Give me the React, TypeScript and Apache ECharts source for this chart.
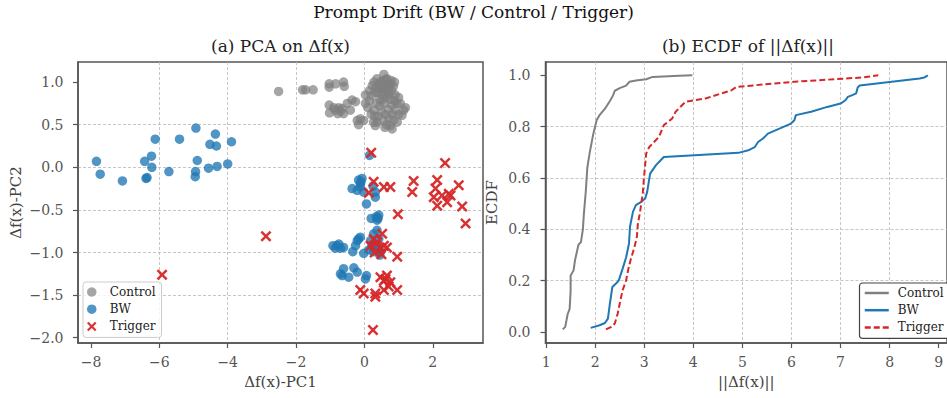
import React, { useEffect, useRef } from 'react';
import * as echarts from 'echarts';

// ---------- PCA scatter data (PC1, PC2) ----------
const controlPts: number[][] = [
  [-2.51, 0.89], [-1.81, 0.91], [-1.72, 0.91], [-1.5, 0.91], [-1.03, 0.98], [-1.03, 0.94], [-0.84, 0.98], [-0.61, 1.0], [-0.59, 0.95],
  [-1.03, 0.73], [-1.02, 0.64], [-0.85, 0.67], [-0.75, 0.7], [-0.65, 0.69], [-0.5, 0.75], [-0.36, 0.79], [-0.26, 0.77], [-0.41, 0.67],
  [-0.61, 0.63], [-0.78, 0.63], [-0.9, 0.7], [-0.7, 0.66], [-0.21, 0.55], [-0.17, 0.5], [-0.12, 0.57], [-0.02, 0.55], [0.03, 0.85], [0.03, 0.75],
  [0.15, 0.9], [0.23, 0.96], [0.3, 0.88], [0.37, 1.04], [0.42, 0.97], [0.45, 0.92], [0.5, 0.85], [0.52, 1.01], [0.57, 1.09], [0.58, 0.95],
  [0.6, 0.89], [0.62, 1.03], [0.66, 1.04], [0.68, 0.97], [0.7, 0.92], [0.72, 0.86], [0.76, 0.98], [0.78, 1.02], [0.8, 0.9], [0.85, 0.95],
  [0.88, 1.0], [0.4, 0.88], [0.35, 0.93], [0.48, 1.0], [0.55, 0.93], [0.65, 0.83], [0.75, 0.8], [0.28, 1.0], [0.2, 0.84], [0.9, 0.85], [0.45, 0.8],
  [0.1, 0.7], [0.2, 0.62], [0.27, 0.67], [0.27, 0.53], [0.32, 0.49], [0.37, 0.53], [0.4, 0.6], [0.45, 0.72], [0.5, 0.65], [0.55, 0.55],
  [0.58, 0.75], [0.62, 0.62], [0.65, 0.5], [0.7, 0.68], [0.72, 0.58], [0.76, 0.49], [0.8, 0.73], [0.82, 0.62], [0.85, 0.55], [0.9, 0.67],
  [0.95, 0.75], [0.96, 0.53], [1.0, 0.62], [1.05, 0.75], [1.1, 0.61], [1.15, 0.67], [1.2, 0.7], [0.81, 0.45], [0.6, 0.47], [0.35, 0.75],
  [0.15, 0.78], [0.55, 0.8], [0.88, 0.78], [1.0, 0.82], [0.3, 0.6],
];

const bwPts: number[][] = [
  [-7.84, 0.07], [-7.73, -0.08], [-7.08, -0.16], [-6.43, 0.07], [-6.23, 0.13], [-6.12, 0.33], [-6.22, 0.0], [-6.39, -0.13], [-6.36, -0.12],
  [-5.72, -0.05], [-5.41, 0.33], [-4.93, 0.46], [-4.89, 0.08], [-4.94, -0.05], [-4.95, -0.11], [-4.56, -0.01], [-4.36, 0.39], [-4.52, 0.27],
  [-4.33, 0.25], [-4.31, 0.01], [-4.0, 0.04], [-3.89, 0.3],
  [0.15, 0.14], [-0.36, -0.25], [-0.17, -0.15], [-0.07, -0.13], [-0.12, -0.19], [-0.12, -0.23], [-0.21, -0.27], [-0.02, -0.29], [-0.1, -0.17],
  [0.32, -0.29], [0.32, -0.35], [0.25, -0.22], [0.06, -0.43], [0.2, -0.6], [0.37, -0.62], [0.42, -0.56], [0.35, -0.58], [0.4, -0.6],
  [-0.92, -0.92], [-0.75, -0.9], [-0.7, -0.95], [-0.61, -0.94], [-0.85, -0.95], [-0.8, -0.92], [-0.34, -0.99], [-0.21, -0.86], [-0.17, -0.84],
  [-0.12, -0.82], [-0.26, -0.92], [-0.02, -1.01], [0.13, -0.97], [0.22, -0.92], [0.32, -0.9], [0.47, -0.99], [0.27, -0.99], [0.18, -0.86],
  [0.27, -0.78], [0.37, -0.74], [0.42, -0.84], [0.4, -0.95], [0.45, -1.03],
  [-0.61, -1.19], [-0.65, -1.27], [-0.46, -1.29], [-0.31, -1.18], [-0.21, -1.23], [0.06, -1.27], [0.03, -1.31], [-0.7, -1.25],
];

const triggerPts: number[][] = [
  [0.2, 0.17], [2.36, 0.05], [0.27, -0.17], [0.13, -0.3], [0.57, -0.23], [0.76, -0.23], [1.44, -0.16], [1.4, -0.29], [2.13, -0.15],
  [2.08, -0.25], [2.03, -0.35], [2.13, -0.45], [2.27, -0.33], [2.42, -0.41], [2.47, -0.31], [2.52, -0.33], [2.76, -0.21], [2.86, -0.46],
  [2.96, -0.66], [0.98, -0.55], [-2.88, -0.81], [-5.92, -1.26], [0.25, -1.91],
  [0.18, -0.92], [0.37, -0.88], [0.47, -0.95], [0.57, -0.92], [0.66, -0.94], [0.27, -0.84], [0.52, -0.78], [0.96, -1.05], [0.3, -1.0], [0.5, -1.02],
  [0.47, -1.29], [0.57, -1.33], [0.66, -1.27], [0.62, -1.31], [0.76, -1.35], [-0.12, -1.44], [-0.02, -1.48], [0.32, -1.52], [0.32, -1.48],
  [0.57, -1.44], [0.71, -1.4], [0.96, -1.44],
];

// ---------- ECDF curves (||Δf(x)||, cumulative fraction) ----------
const ecdfControlX = [1.34, 1.39, 1.44, 1.48, 1.5, 1.5, 1.56, 1.59, 1.66, 1.71, 1.75, 1.77, 1.81, 1.84, 1.89, 1.96, 2.03, 2.09, 2.2, 2.3, 2.36, 2.4, 2.5, 2.63, 2.7, 2.83, 3.04, 3.17, 3.71, 3.98];
const ecdfControlY = [0.01, 0.02, 0.07, 0.09, 0.16, 0.22, 0.24, 0.28, 0.34, 0.35, 0.4, 0.46, 0.55, 0.64, 0.7, 0.77, 0.825, 0.845, 0.87, 0.9, 0.92, 0.94, 0.95, 0.96, 0.975, 0.98, 0.985, 0.994, 0.998, 1.0];

const ecdfBwX = [1.91, 2.09, 2.2, 2.26, 2.3, 2.35, 2.43, 2.48, 2.56, 2.63, 2.69, 2.71, 2.77, 2.83, 2.94, 3.02, 3.06, 3.12, 3.24, 3.34, 3.4, 4.92, 5.12, 5.25, 5.32, 5.42, 5.49, 5.52, 5.99, 6.06, 6.09, 6.4, 6.73, 7.0, 7.1, 7.15, 7.24, 7.32, 7.35, 7.39, 8.61, 8.71, 8.78];
const ecdfBwY = [0.016, 0.026, 0.035, 0.052, 0.11, 0.175, 0.19, 0.2, 0.247, 0.29, 0.345, 0.41, 0.468, 0.494, 0.507, 0.52, 0.546, 0.617, 0.65, 0.67, 0.682, 0.698, 0.708, 0.72, 0.74, 0.754, 0.767, 0.773, 0.812, 0.825, 0.845, 0.858, 0.877, 0.89, 0.903, 0.916, 0.923, 0.93, 0.953, 0.96, 0.988, 0.992, 1.0];

const ecdfTriggerX = [2.22, 2.33, 2.4, 2.46, 2.5, 2.56, 2.63, 2.67, 2.73, 2.8, 2.85, 2.87, 2.92, 2.97, 2.99, 3.04, 3.1, 3.3, 3.4, 3.57, 3.64, 3.84, 4.25, 4.78, 4.88, 6.06, 7.47, 7.77];
const ecdfTriggerY = [0.01, 0.02, 0.033, 0.072, 0.11, 0.163, 0.2, 0.24, 0.286, 0.33, 0.37, 0.42, 0.474, 0.54, 0.59, 0.695, 0.72, 0.76, 0.806, 0.832, 0.858, 0.897, 0.91, 0.942, 0.955, 0.975, 0.992, 1.0];

// ---------- tick labels ----------
const pcaXTicks = [-8, -6, -4, -2, 0, 2];
const pcaYTicks = [-2, -1.5, -1, -0.5, 0, 0.5, 1];
const ecdfXTicks = [1, 2, 3, 4, 5, 6, 7, 8, 9];
const ecdfYTicks = [0, 0.2, 0.4, 0.6, 0.8, 1];

const FONT = 'DejaVu Serif';
const SPINE = '#555555';
const TICKTXT = '#555555';
const GRIDLINE = '#b8b8b8';

const minus = (s: string) => s.replace('-', '\u2212');
const fmt0 = (v: number) => minus(String(Math.round(v)));
const fmt1 = (v: number) => minus((Math.abs(v) < 1e-9 ? 0 : v).toFixed(1));

const X_MARK = 'path://M1.6,0L5,3.4L8.4,0L10,1.6L6.6,5L10,8.4L8.4,10L5,6.6L1.6,10L0,8.4L3.4,5L0,1.6Z';

function axisCommon(ticks: number[], fmt: (v: number) => string, margin: number) {
  return {
    type: 'value' as const,
    axisLine: { show: true, onZero: false, lineStyle: { color: SPINE, width: 1.5 } },
    axisTick: { show: true, inside: false, length: 5, customValues: ticks, lineStyle: { color: SPINE, width: 1.2 } },
    axisLabel: { customValues: ticks, formatter: fmt, color: TICKTXT, fontFamily: FONT, fontSize: 14, margin },
    splitLine: { show: true, showMinLine: false, showMaxLine: false, lineStyle: { type: [3, 2], color: GRIDLINE, width: 0.8 } },
    nameLocation: 'middle' as const,
    nameTextStyle: { fontFamily: FONT, fontSize: 15, color: '#444' },
  };
}

const option: any = {
  animation: false,
  backgroundColor: '#ffffff',
  grid: [
    { left: 78, top: 62, width: 405, height: 281, show: true, borderColor: SPINE, borderWidth: 1.5, backgroundColor: 'transparent' },
    { left: 545.5, top: 62, width: 405.5, height: 281, show: true, borderColor: SPINE, borderWidth: 1.5, backgroundColor: 'transparent' },
  ],
  xAxis: [
    { ...axisCommon(pcaXTicks, fmt0, 12), gridIndex: 0, min: -8.38, max: 3.47, splitNumber: 5, minInterval: 2, maxInterval: 2, name: 'Δf(x)-PC1', nameGap: 31 },
    { ...axisCommon(ecdfXTicks, fmt0, 12), gridIndex: 1, min: 0.988, max: 9.17, splitNumber: 8, minInterval: 1, maxInterval: 1, name: '||Δf(x)||', nameGap: 31 },
  ],
  yAxis: [
    { ...axisCommon(pcaYTicks, fmt1, 14.5), gridIndex: 0, min: -2.062, max: 1.236, splitNumber: 6, minInterval: 0.5, maxInterval: 0.5, name: 'Δf(x)-PC2', nameGap: 55 },
    { ...axisCommon(ecdfYTicks, fmt1, 15), gridIndex: 1, min: -0.043, max: 1.052, splitNumber: 5, minInterval: 0.2, maxInterval: 0.2, name: 'ECDF', nameGap: 46 },
  ],
  legend: [
    {
      data: ['Control', 'BW', 'Trigger'],
      left: 83, top: 282, orient: 'vertical',
      itemWidth: 26, itemHeight: 9.5, itemGap: 3.2,
      padding: [3, 6, 4, 4],
      backgroundColor: 'rgba(255,255,255,0.8)', borderColor: '#cccccc', borderWidth: 1, borderRadius: 3,
      textStyle: { fontFamily: FONT, fontSize: 12, color: '#222', lineHeight: 14 },
      selectedMode: false,
    },
    {
      data: ['Control ', 'BW ', 'Trigger '],
      formatter: (n: string) => n.trim(),
      left: 859.5, top: 283, orient: 'vertical',
      itemWidth: 24, itemHeight: 10, itemGap: 3.2,
      padding: [3, 6, 4, 4],
      itemStyle: { opacity: 0 },
      lineStyle: { width: 2.5 },
      backgroundColor: '#ffffff', borderColor: '#444444', borderWidth: 1.2, borderRadius: 3,
      textStyle: { fontFamily: FONT, fontSize: 12, color: '#222', lineHeight: 14, padding: [0, 0, 0, 4] },
      selectedMode: false,
    },
  ],
  graphic: [
    { type: 'text', x: 473.5, y: 12, style: { text: 'Prompt Drift (BW / Control / Trigger)', fontFamily: FONT, fontSize: 17, fill: '#111', align: 'center', verticalAlign: 'middle' } },
    { type: 'text', x: 280.5, y: 46, style: { text: '(a) PCA on Δf(x)', fontFamily: FONT, fontSize: 17, fill: '#222', align: 'center', verticalAlign: 'middle' } },
    { type: 'text', x: 748, y: 46, style: { text: '(b) ECDF of ||Δf(x)||', fontFamily: FONT, fontSize: 17, fill: '#222', align: 'center', verticalAlign: 'middle' } },
  ],
  series: [
    { name: 'Control', type: 'scatter', xAxisIndex: 0, yAxisIndex: 0, data: controlPts, symbol: 'circle', symbolSize: 9.5, itemStyle: { color: '#7f7f7f', opacity: 0.7 }, z: 2 },
    { name: 'BW', type: 'scatter', xAxisIndex: 0, yAxisIndex: 0, data: bwPts, symbol: 'circle', symbolSize: 9.5, itemStyle: { color: '#1f77b4', opacity: 0.78 }, z: 3 },
    { name: 'Trigger', type: 'scatter', xAxisIndex: 0, yAxisIndex: 0, data: triggerPts, symbol: X_MARK, symbolSize: 11, itemStyle: { color: '#d62728', opacity: 0.95 }, z: 4 },
    { name: 'Control ', type: 'line', xAxisIndex: 1, yAxisIndex: 1, data: ecdfControlX.map((x, i) => [x, ecdfControlY[i]]), showSymbol: false, symbol: 'none', lineStyle: { color: '#808080', width: 2 }, itemStyle: { color: '#808080' }, z: 2 },
    { name: 'BW ', type: 'line', xAxisIndex: 1, yAxisIndex: 1, data: ecdfBwX.map((x, i) => [x, ecdfBwY[i]]), showSymbol: false, symbol: 'none', lineStyle: { color: '#1f77b4', width: 2 }, itemStyle: { color: '#1f77b4' }, z: 3 },
    { name: 'Trigger ', type: 'line', xAxisIndex: 1, yAxisIndex: 1, data: ecdfTriggerX.map((x, i) => [x, ecdfTriggerY[i]]), showSymbol: false, symbol: 'none', lineStyle: { color: '#d62728', width: 2, type: [6, 3] }, itemStyle: { color: '#d62728' }, z: 4 },
  ],
};

export default function App() {
  const ref = useRef<HTMLDivElement>(null);
  useEffect(() => {
    if (!ref.current) return;
    const chart = echarts.init(ref.current, null, { renderer: 'svg' });
    chart.setOption(option);
    return () => chart.dispose();
  }, []);
  return <div ref={ref} style={{ position: 'fixed', left: 0, top: 0, width: 947, height: 398, background: '#fff' }} />;
}
